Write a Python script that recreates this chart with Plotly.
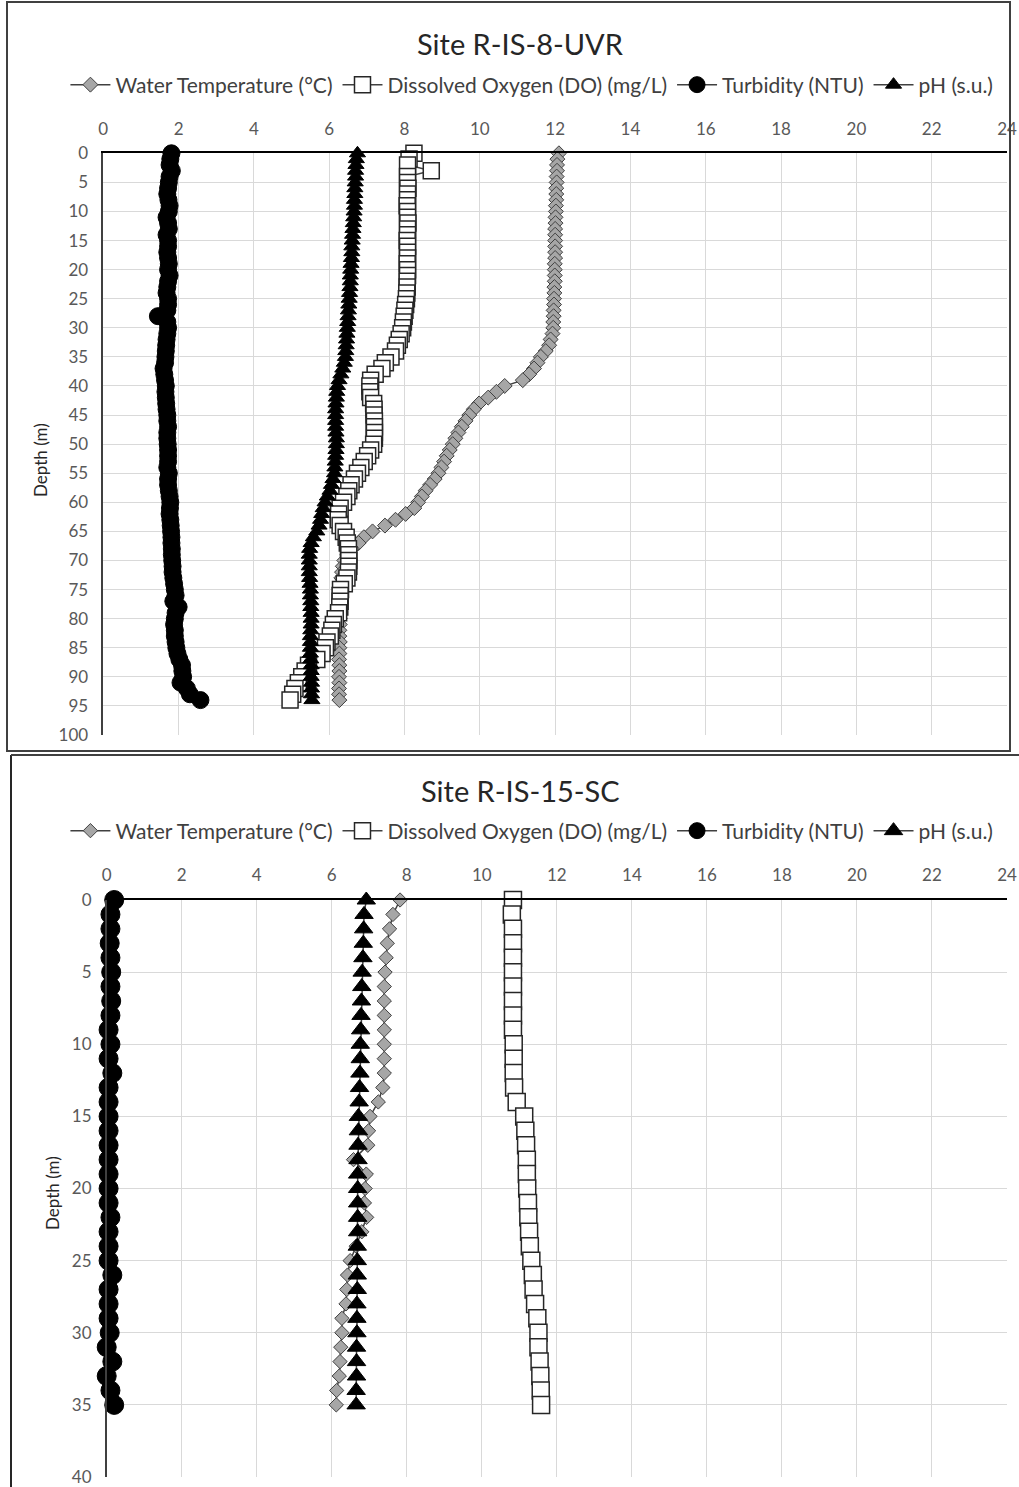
import plotly.graph_objects as go

# ---------------- Site R-IS-8-UVR ----------------
depth1 = list(range(0, 95))
temp1 = [12.10, 12.06, 12.05, 12.05, 12.04, 12.04, 12.03, 12.03, 12.03, 12.02,
         12.02, 12.01, 12.01, 12.00, 12.00, 12.00, 12.00, 12.00, 12.00, 11.99,
         11.99, 11.99, 11.99, 11.98, 11.98, 11.97, 11.97, 11.96, 11.96, 11.95,
         11.95, 11.93, 11.88, 11.84, 11.75, 11.62, 11.53, 11.44, 11.31, 11.14,
         10.66, 10.44, 10.22, 9.98, 9.84, 9.72, 9.62, 9.52, 9.43, 9.35,
         9.28, 9.20, 9.12, 9.05, 8.98, 8.90, 8.80, 8.68, 8.56, 8.46,
         8.36, 8.26, 8.03, 7.76, 7.48, 7.15, 6.92, 6.78, 6.60, 6.48,
         6.40, 6.36, 6.34, 6.32, 6.31, 6.30, 6.30, 6.29, 6.29, 6.28,
         6.28, 6.28, 6.27, 6.27, 6.28, 6.27, 6.27, 6.26, 6.27, 6.27,
         6.26, 6.27, 6.26, 6.26, 6.27]
do1 = [8.25, 8.12, 8.08, 8.71, 8.08, 8.08, 8.09, 8.08, 8.08, 8.07,
       8.08, 8.08, 8.09, 8.08, 8.08, 8.07, 8.08, 8.08, 8.08, 8.07,
       8.08, 8.08, 8.07, 8.07, 8.06, 8.05, 8.03, 8.01, 7.99, 7.97,
       7.95, 7.91, 7.86, 7.81, 7.76, 7.64, 7.49, 7.40, 7.22, 7.10,
       7.08, 7.08, 7.10, 7.18, 7.19, 7.19, 7.20, 7.20, 7.20, 7.20,
       7.18, 7.10, 7.02, 6.93, 6.84, 6.75, 6.67, 6.58, 6.52, 6.47,
       6.38, 6.29, 6.25, 6.24, 6.29, 6.38, 6.45, 6.48, 6.51, 6.52,
       6.52, 6.52, 6.51, 6.47, 6.40, 6.30, 6.29, 6.29, 6.28, 6.25,
       6.16, 6.11, 6.07, 6.03, 5.94, 5.90, 5.81, 5.67, 5.45, 5.36,
       5.27, 5.18, 5.09, 5.03, 4.96]
turb1 = [1.81, 1.78, 1.76, 1.82, 1.76, 1.74, 1.72, 1.70, 1.73, 1.76,
         1.74, 1.68, 1.72, 1.74, 1.68, 1.72, 1.72, 1.70, 1.72, 1.74,
         1.72, 1.76, 1.72, 1.70, 1.68, 1.72, 1.72, 1.70, 1.45, 1.70,
         1.72, 1.70, 1.68, 1.67, 1.66, 1.65, 1.64, 1.60, 1.62, 1.64,
         1.66, 1.65, 1.66, 1.67, 1.68, 1.70, 1.70, 1.72, 1.70, 1.70,
         1.71, 1.72, 1.72, 1.72, 1.70, 1.74, 1.72, 1.72, 1.74, 1.76,
         1.78, 1.77, 1.76, 1.78, 1.79, 1.80, 1.81, 1.81, 1.82, 1.82,
         1.83, 1.84, 1.84, 1.86, 1.88, 1.90, 1.92, 1.86, 2.00, 1.92,
         1.90, 1.88, 1.90, 1.90, 1.92, 1.94, 1.97, 2.02, 2.09, 2.10,
         2.12, 2.05, 2.22, 2.30, 2.58]
ph1 = [6.75, 6.72, 6.71, 6.70, 6.70, 6.69, 6.68, 6.68, 6.67, 6.67,
       6.66, 6.65, 6.64, 6.63, 6.62, 6.61, 6.60, 6.60, 6.59, 6.58,
       6.57, 6.56, 6.56, 6.55, 6.54, 6.53, 6.52, 6.51, 6.50, 6.49,
       6.48, 6.47, 6.46, 6.45, 6.44, 6.43, 6.40, 6.36, 6.31, 6.26,
       6.22, 6.20, 6.19, 6.18, 6.17, 6.17, 6.17, 6.17, 6.18, 6.19,
       6.19, 6.18, 6.17, 6.16, 6.15, 6.14, 6.10, 6.06, 6.02, 5.95,
       5.89, 5.84, 5.80, 5.77, 5.73, 5.67, 5.58, 5.52, 5.48, 5.47,
       5.47, 5.47, 5.47, 5.48, 5.49, 5.50, 5.50, 5.51, 5.51, 5.52,
       5.52, 5.52, 5.51, 5.50, 5.50, 5.50, 5.50, 5.51, 5.52, 5.52,
       5.52, 5.53, 5.53, 5.53, 5.54]

# ---------------- Site R-IS-15-SC ----------------
depth2 = list(range(0, 36))
temp2 = [7.82, 7.63, 7.54, 7.48, 7.45, 7.42, 7.40, 7.40, 7.40, 7.40,
         7.40, 7.40, 7.40, 7.36, 7.24, 7.02, 6.98, 6.96, 6.58, 6.92,
         6.89, 6.87, 6.93, 6.80, 6.65, 6.49, 6.42, 6.40, 6.38, 6.27,
         6.27, 6.24, 6.22, 6.20, 6.13, 6.12]
do2 = [10.83, 10.80, 10.83, 10.83, 10.83, 10.83, 10.83, 10.83, 10.83, 10.83,
       10.85, 10.85, 10.85, 10.86, 10.93, 11.13, 11.16, 11.18, 11.20, 11.20,
       11.21, 11.23, 11.24, 11.26, 11.28, 11.32, 11.36, 11.38, 11.42, 11.48,
       11.51, 11.51, 11.54, 11.56, 11.57, 11.58]
turb2 = [0.20, 0.10, 0.10, 0.08, 0.10, 0.12, 0.10, 0.12, 0.10, 0.05,
         0.10, 0.05, 0.15, 0.05, 0.05, 0.05, 0.05, 0.05, 0.05, 0.05,
         0.05, 0.05, 0.10, 0.05, 0.05, 0.05, 0.15, 0.05, 0.05, 0.05,
         0.08, 0.00, 0.15, 0.00, 0.10, 0.20]
ph2 = [6.92, 6.86, 6.85, 6.84, 6.83, 6.81, 6.80, 6.79, 6.78, 6.77,
       6.76, 6.76, 6.75, 6.74, 6.73, 6.71, 6.71, 6.70, 6.70, 6.69,
       6.69, 6.69, 6.69, 6.69, 6.68, 6.68, 6.68, 6.68, 6.67, 6.67,
       6.67, 6.66, 6.66, 6.66, 6.65, 6.65]

titles = ["Site R-IS-8-UVR", "Site R-IS-15-SC"]
series_names = ["Water Temperature (\u00b0C)", "Dissolved Oxygen (DO) (mg/L)",
                "Turbidity (NTU)", "pH (s.u.)"]
x_ticks = list(range(0, 25, 2))

W, H = 1019, 1487
FONT = "Lato"
LINE = "#404040"


def px_x(p):
    return p / W


def px_y(p):
    return 1 - p / H


fig = go.Figure()

styles = [
    dict(symbol="diamond", color="#a6a6a6", line=dict(color="#404040", width=1)),
    dict(symbol="square", color="white", line=dict(color="#262626", width=1.5)),
    dict(symbol="circle", color="black", line=dict(color="black", width=1)),
    dict(symbol="triangle-up", color="black", line=dict(color="black", width=1)),
]
sizes_top = [11.5, 16, 17, 14]
sizes_bot = [11, 17, 19, 16]

datasets = [
    (depth1, [temp1, do1, turb1, ph1], "x", "y", "legend", sizes_top),
    (depth2, [temp2, do2, turb2, ph2], "x2", "y2", "legend2", sizes_bot),
]

for depth, vals, xa, ya, lg, sizes in datasets:
    for name, v, st, sz in zip(series_names, vals, styles, sizes):
        fig.add_trace(go.Scatter(
            x=v, y=depth, mode="lines+markers", name=name,
            xaxis=xa, yaxis=ya, legend=lg, cliponaxis=False,
            line=dict(color=LINE, width=1.5),
            marker=dict(symbol=st["symbol"], size=sz, color=st["color"],
                        line=st["line"]),
        ))

axis_common_x = dict(range=[0, 24], tickmode="array", tickvals=x_ticks,
                     side="top", showgrid=True, gridcolor="#d9d9d9", gridwidth=1,
                     showline=True, linecolor="black", linewidth=1.5,
                     ticks="", zeroline=False, ticklabelstandoff=10, automargin=False,
                     tickfont=dict(family=FONT, size=17, color="#595959"))
axis_common_y = dict(showgrid=True, gridcolor="#d9d9d9", gridwidth=1,
                     showline=True, linecolor="#404040", linewidth=1.5,
                     ticks="", zeroline=False, dtick=5, ticklabelstandoff=10,
                     automargin=False,
                     tickfont=dict(family=FONT, size=17, color="#595959"))

legend_common = dict(orientation="h", x=0.522, xanchor="center", yanchor="middle",
                     font=dict(family=FONT, size=21, color="#404040"),
                     bgcolor="rgba(0,0,0,0)", itemwidth=40, tracegroupgap=0)

fig.update_layout(
    width=W, height=H,
    margin=dict(l=0, r=0, t=0, b=0, pad=0, autoexpand=False),
    paper_bgcolor="white", plot_bgcolor="white",
    font=dict(family=FONT, color="#404040"),
    xaxis=dict(domain=[px_x(103.3), px_x(1007)], anchor="y", **axis_common_x),
    yaxis=dict(domain=[px_y(735), px_y(153.3)], anchor="x",
               range=[100, 0], **axis_common_y),
    xaxis2=dict(domain=[px_x(106.7), px_x(1007)], anchor="y2", **axis_common_x),
    yaxis2=dict(domain=[px_y(1477), px_y(900)], anchor="x2",
                range=[40, 0], **axis_common_y),
    legend=dict(y=px_y(85), **legend_common),
    legend2=dict(y=px_y(831), **legend_common),
    showlegend=True,
)

# Titles and axis titles
for t, yy in zip(titles, [44, 790]):
    fig.add_annotation(text=t, x=px_x(520), y=px_y(yy), xref="paper", yref="paper",
                       xanchor="center", yanchor="middle", showarrow=False,
                       font=dict(family=FONT, size=29, color="#262626"))
for xx, yy in [(40, 460), (52, 1193)]:
    fig.add_annotation(text="Depth (m)", x=px_x(xx), y=px_y(yy), xref="paper", yref="paper",
                       xanchor="center", yanchor="middle", showarrow=False, textangle=-90,
                       font=dict(family=FONT, size=17, color="#262626"))

# Chart borders
fig.add_shape(type="rect", xref="paper", yref="paper",
              x0=px_x(7), x1=px_x(1010), y0=px_y(751), y1=px_y(2),
              line=dict(color="#404040", width=2))
fig.add_shape(type="line", xref="paper", yref="paper",
              x0=px_x(11), x1=px_x(11), y0=px_y(755), y1=px_y(1487),
              line=dict(color="#262626", width=2))
fig.add_shape(type="line", xref="paper", yref="paper",
              x0=px_x(11), x1=1, y0=px_y(755), y1=px_y(755),
              line=dict(color="#404040", width=2))

fig.write_html("out.html")
